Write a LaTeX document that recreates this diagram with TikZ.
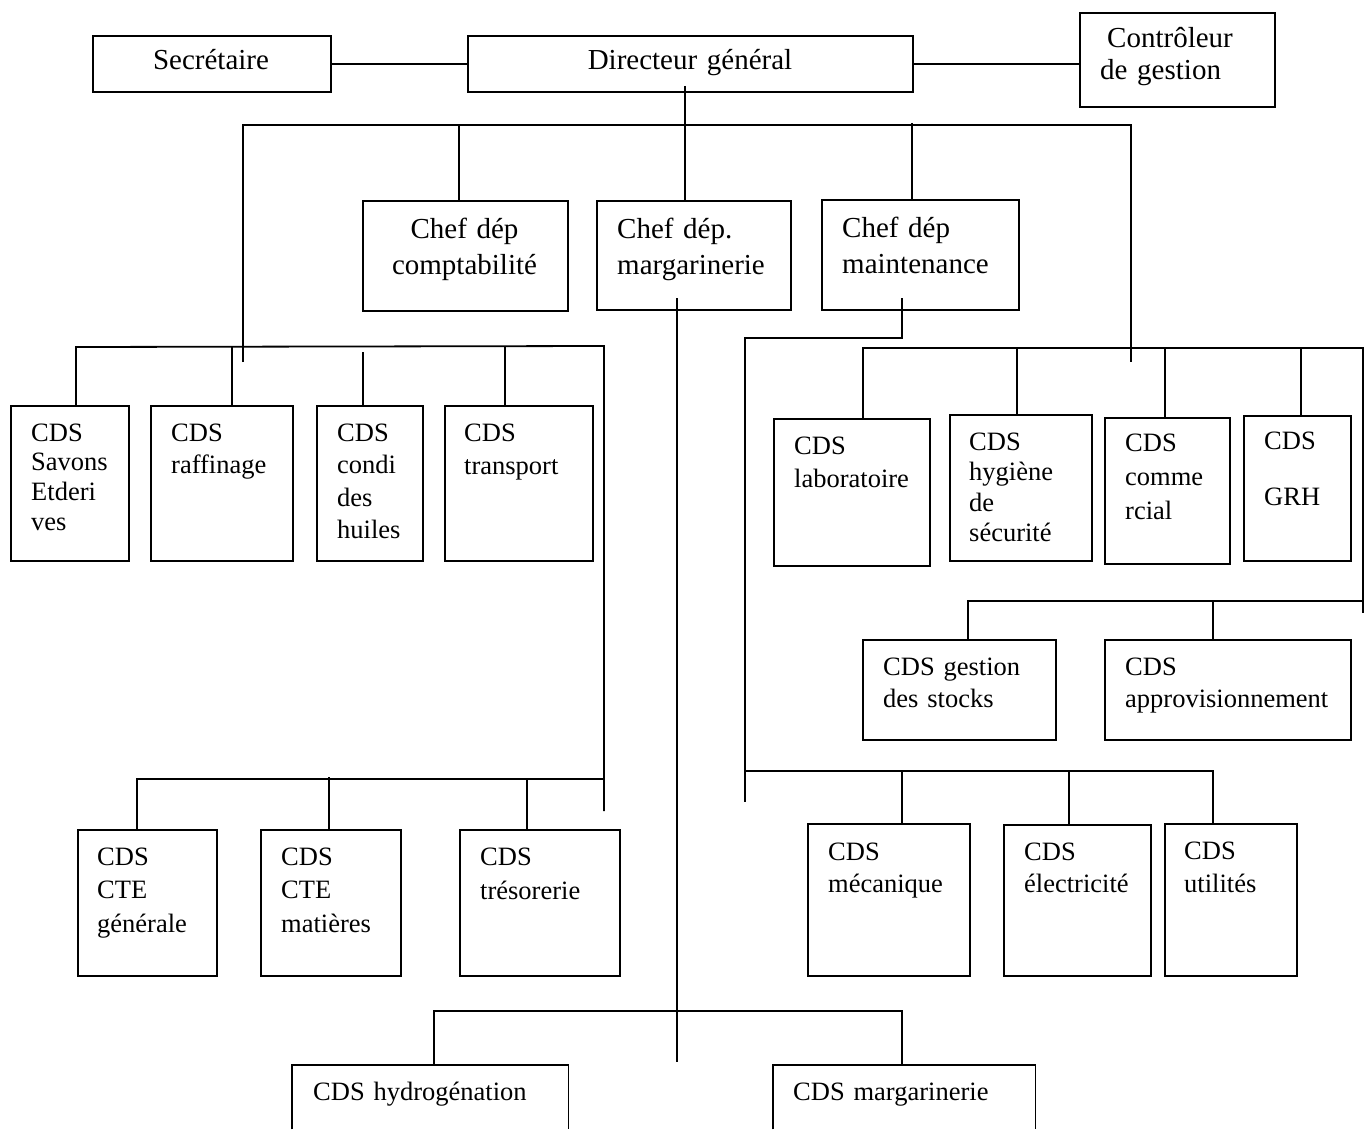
\documentclass[tikz,border=0pt]{standalone}
\usepackage{fontspec}
\setmainfont{Liberation Serif}
\tikzset{
  ln/.style={line width=1.8pt},
  orgbox/.style={draw, line width=1.8pt, inner sep=0pt, anchor=north west},
  openbox/.style={inner sep=0pt, anchor=north west},
  txt/.style={inner sep=0pt, anchor=base west, align=left, text width=225pt},
  ctxt/.style={inner sep=0pt, anchor=base, align=center, text width=300pt}
}
\newcommand\mkbox[6][orgbox]{\node[#1, minimum width={(#5-#3)*1pt}, minimum height={(#6-#4)*1pt}] (#2) at (#3,#4) {};}
\newcommand\mktext[6]{\node[txt, font={\fontsize{#4}{#5}\selectfont}] (#1) at (#2,#3) {#6};}
\newcommand\mkctext[6]{\node[ctxt, font={\fontsize{#4}{#5}\selectfont}] (#1) at (#2,#3) {#6};}
\begin{document}
\begin{tikzpicture}[x=1pt,y=-1pt]
\fill[white] (0,0) rectangle (1367,1129);
\useasboundingbox (0,0) rectangle (1367,1129);

% ---------- boxes ----------
\mkbox{sec}{92}{35}{330}{91}
\mkbox{dg}{467}{35}{912}{91}
\mkbox{cg}{1079}{12}{1274}{106}
\mkbox{comp}{362}{200}{567}{310}
\mkbox{marg}{596}{200}{790}{309}
\mkbox{maint}{821}{199}{1018}{309}
\mkbox{savons}{10}{405}{128}{560}
\mkbox{raff}{150}{405}{292}{560}
\mkbox{condi}{316}{405}{422}{560}
\mkbox{transp}{444}{405}{592}{560}
\mkbox{gen}{77}{829}{216}{975}
\mkbox{mat}{260}{829}{400}{975}
\mkbox{tres}{459}{829}{619}{975}
\mkbox{lab}{773}{418}{929}{565}
\mkbox{hyg}{949}{414}{1091}{560}
\mkbox{com}{1104}{417}{1229}{563}
\mkbox{grh}{1243}{415}{1350}{560}
\mkbox{gest}{862}{639}{1055}{739}
\mkbox{appro}{1104}{639}{1350}{739}
\mkbox{mec}{807}{823}{969}{975}
\mkbox{elec}{1003}{824}{1150}{975}
\mkbox{util}{1164}{823}{1296}{975}
\mkbox[openbox]{hydro}{292}{1065}{568}{1129}
\mkbox[openbox]{cmarg}{773}{1065}{1035}{1129}
\draw[ln] (hydro.south west) -- (hydro.north west) -- (hydro.north east) -- (hydro.south east);
\draw[ln] (cmarg.south west) -- (cmarg.north west) -- (cmarg.north east) -- (cmarg.south east);

% ---------- texts ----------
\mkctext{tsec}{211}{70}{29}{35}{Secrétaire}
\mkctext{tdg}{690}{70}{29}{35}{Directeur général}
\mktext{tcg}{1100}{48}{29}{32}{\hspace*{7pt}Contrôleur\\de gestion}
\mkctext{tcomp}{464.5}{238}{29}{36}{Chef dép\\comptabilité}
\mktext{tmarg}{617}{238}{29}{36}{Chef dép.\\margarinerie}
\mktext{tmaint}{842}{237}{29}{36}{Chef dép\\maintenance}

\mktext{tsavons}{31}{441}{26.5}{29.7}{CDS\\Savons\\Etderi\\ves}
\mktext{traff}{171}{441}{26.5}{32}{CDS\\raffinage}
\mktext{tcondi}{337}{441}{26.5}{32.5}{CDS\\condi\\des\\huiles}
\mktext{ttransp}{464}{441}{26.5}{33}{CDS\\transport}
\mktext{tgen}{97}{865}{26.5}{33.8}{CDS\\CTE\\générale}
\mktext{tmat}{281}{865}{26.5}{33.8}{CDS\\CTE\\matières}
\mktext{ttres}{480}{865}{26.5}{34}{CDS\\trésorerie}
\mktext{tlab}{794}{454}{26.5}{33}{CDS\\laboratoire}
\mktext{thyg}{969}{450}{26.5}{30.5}{CDS\\hygiène\\de\\sécurité}
\mktext{tcom}{1125}{451}{26.5}{34}{CDS\\comme\\rcial}
\mktext{tgrh}{1264}{449}{26.5}{56}{CDS\\GRH}
\mktext{tgest}{883}{675}{26.5}{32.5}{CDS gestion\\des stocks}
\mktext{tappro}{1125}{675}{26.5}{32.5}{CDS\\approvisionnement}
\mktext{tmec}{828}{860}{26.5}{32.5}{CDS\\mécanique}
\mktext{telec}{1024}{860}{26.5}{32.5}{CDS\\électricité}
\mktext{tutil}{1184}{859}{26.5}{33}{CDS\\utilités}
\mktext{thydro}{313}{1100}{26.5}{32}{CDS hydrogénation}
\mktext{tcmarg}{793}{1100}{26.5}{32}{CDS margarinerie}

% ---------- top connectors ----------
\draw[ln] (sec.east) -- (dg.west);
\draw[ln] (dg.east) -- (dg.east -| cg.west);

\coordinate (busL) at (243,125);
\coordinate (busR) at (1131,125);
\coordinate (busLend) at (243,362);
\coordinate (busRend) at (1131,362);
\coordinate (c1) at (459,125);
\coordinate (d1) at (685,86);
\coordinate (m1) at (912,123);
\draw[ln] (busLend) -- (busL) -- (busR) -- (busRend);
\draw[ln] (c1) -- (c1 |- comp.north);
\draw[ln] (d1) -- (d1 |- marg.north);
\draw[ln] (m1) -- (m1 |- maint.north);

% margarinerie branch
\coordinate (g1) at (677,298);
\coordinate (g2) at (677,1062);
\draw[ln] (g1) -- (g2);
\coordinate (hb1) at (434,1011);
\coordinate (hb2) at (902,1011);
\draw[ln] (hb1 |- hydro.north) -- (hb1) -- (hb2) -- (hb2 |- cmarg.north);

% ---------- left group ----------
\coordinate (lb1) at (76,347);
\coordinate (lb2) at (604,346);
\coordinate (lb3) at (604,811);
\draw[ln] (lb1 |- savons.north) -- (lb1) -- (lb2) -- (lb3);
\coordinate (r1) at (232,347);
\draw[ln] (r1) -- (r1 |- raff.north);
\coordinate (k1) at (363,352);
\draw[ln] (k1) -- (k1 |- condi.north);
\coordinate (t1) at (505,346);
\draw[ln] (t1) -- (t1 |- transp.north);

\coordinate (lo1) at (137,779);
\coordinate (lo2) at (604,779);
\draw[ln] (lo1 |- gen.north) -- (lo1) -- (lo2);
\coordinate (lo3) at (329,777);
\draw[ln] (lo3) -- (lo3 |- mat.north);
\coordinate (lo4) at (527,779);
\draw[ln] (lo4) -- (lo4 |- tres.north);

% ---------- right group ----------
\coordinate (mt1) at (902,298);
\coordinate (mt2) at (902,338);
\coordinate (rl1) at (745,338);
\coordinate (rl2) at (745,802);
\draw[ln] (mt1) -- (mt2) -- (rl1) -- (rl2);

\coordinate (rb1) at (863,348);
\coordinate (rb2) at (1363,348);
\coordinate (rb3) at (1363,613);
\draw[ln] (rb1 |- lab.north) -- (rb1) -- (rb2) -- (rb3);
\coordinate (rv1) at (1017,348);
\draw[ln] (rv1) -- (rv1 |- hyg.north);
\coordinate (rv2) at (1165,348);
\draw[ln] (rv2) -- (rv2 |- com.north);
\coordinate (rv3) at (1301,348);
\draw[ln] (rv3) -- (rv3 |- grh.north);

\coordinate (sb1) at (968,601);
\coordinate (sb2) at (1363,601);
\draw[ln] (sb1 |- gest.north) -- (sb1) -- (sb2);
\coordinate (sb3) at (1213,601);
\draw[ln] (sb3) -- (sb3 |- appro.north);

\coordinate (mb1) at (745,771);
\coordinate (mb2) at (1213,771);
\draw[ln] (mb1) -- (mb2) -- (mb2 |- util.north);
\coordinate (mb3) at (902,771);
\draw[ln] (mb3) -- (mb3 |- mec.north);
\coordinate (mb4) at (1069,771);
\draw[ln] (mb4) -- (mb4 |- elec.north);
\end{tikzpicture}
\end{document}
